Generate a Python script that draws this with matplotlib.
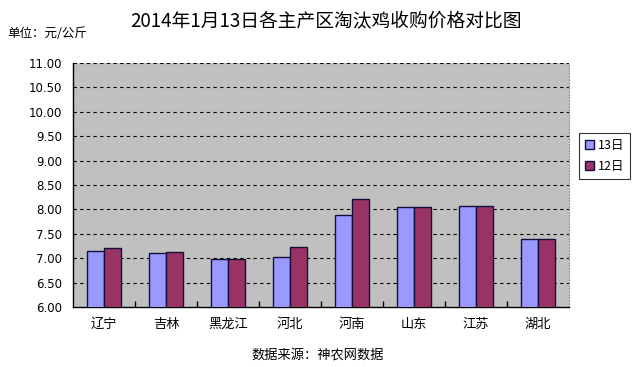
import matplotlib.pyplot as plt
import numpy as np

plt.rcParams["font.family"] = ["Noto Sans CJK SC", "DejaVu Sans"]

regions = ["辽宁", "吉林", "黑龙江", "河北", "河南", "山东", "江苏", "湖北"]
price_13 = [7.15, 7.11, 6.98, 7.02, 7.89, 8.04, 8.06, 7.39]
price_12 = [7.20, 7.13, 6.98, 7.22, 8.21, 8.04, 8.06, 7.39]
yticks = [6.0, 6.5, 7.0, 7.5, 8.0, 8.5, 9.0, 9.5, 10.0, 10.5, 11.0]

COL = {"d13": "#9999FF", "d12": "#993366", "bg": "#C0C0C0", "edge": "#10103A"}

fig = plt.figure(figsize=(6.36, 3.67), dpi=100)
ax = fig.add_axes([0.1148, 0.1635, 0.7799, 0.6648])
ax.set_facecolor(COL["bg"])

x = np.arange(len(regions))
w = 0.275
ax.bar(x - w / 2, price_13, width=w, color=COL["d13"],
       edgecolor=COL["edge"], linewidth=1.0, label="13日", zorder=3)
ax.bar(x + w / 2, price_12, width=w, color=COL["d12"],
       edgecolor=COL["edge"], linewidth=1.0, label="12日", zorder=3)

ax.set_ylim(6.0, 11.0)
ax.set_xlim(-0.5, len(regions) - 0.5)
ax.set_yticks(yticks)
ax.set_yticklabels([f"{v:.2f}" for v in yticks], family="DejaVu Sans", fontsize=8.5)
ax.tick_params(axis="y", length=0, pad=8)
for v in yticks[1:]:
    ax.axhline(v, color="black", linestyle=(0, (3, 3)), linewidth=0.8, zorder=1)

ax.set_xticks(x)
ax.set_xticklabels(regions, fontsize=9.5)
ax.tick_params(axis="x", length=0, pad=8)
ax.set_xticks(np.arange(len(regions) - 1) + 0.5, minor=True)
ax.tick_params(axis="x", which="minor", direction="in", length=4, width=1)

ax.spines["top"].set_visible(False)
ax.spines["right"].set_color("#909090")
ax.spines["right"].set_linestyle(":")
ax.spines["left"].set_linewidth(1.0)
ax.spines["bottom"].set_linewidth(1.0)

leg = fig.legend(loc="upper left", bbox_to_anchor=(0.910, 0.638), fontsize=9,
                 frameon=True, fancybox=False, edgecolor="black",
                 handlelength=0.7, handleheight=0.7, handletextpad=0.3,
                 borderpad=0.5, labelspacing=0.6, borderaxespad=0)
leg.get_frame().set_linewidth(0.8)

fig.text(0.513, 0.94, "2014年1月13日各主产区淘汰鸡收购价格对比图",
         ha="center", va="center", fontsize=13.5)
fig.text(0.012, 0.91, "单位：元/公斤", ha="left", va="center", fontsize=9)
fig.text(0.499, 0.033, "数据来源：神农网数据", ha="center", va="center", fontsize=9.5)

fig.savefig("out.png", dpi=100)
